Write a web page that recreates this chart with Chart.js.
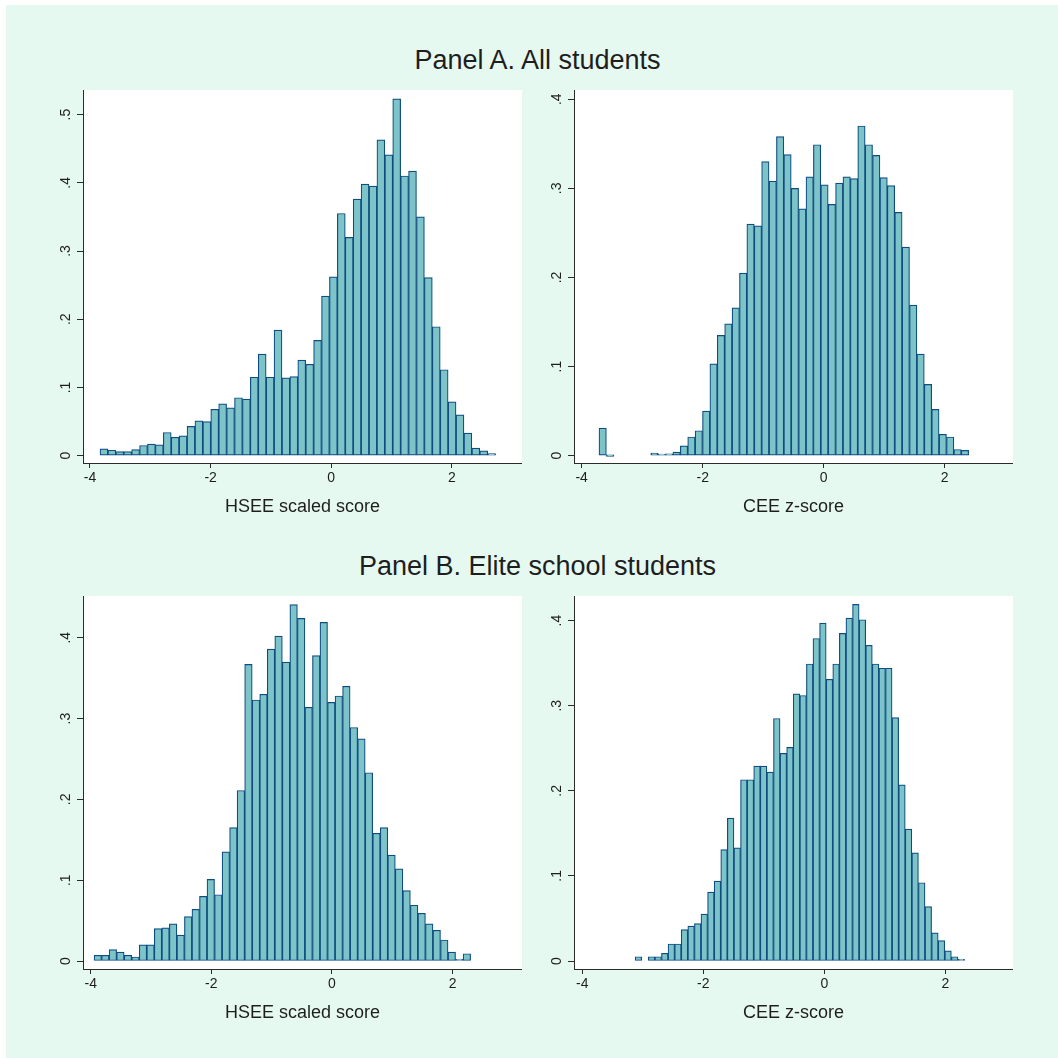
<!DOCTYPE html>
<html>
<head>
<meta charset="utf-8">
<script src="https://cdn.jsdelivr.net/npm/chart.js@4"></script>
<style>
  html, body { margin: 0; overflow: hidden; }
  body { background: #fff; font-family: "Liberation Sans", Arial, sans-serif; }
  #fundo { position: absolute; left: 6px; top: 5px; width: 1052px; height: 1053px; background: #e6f9f1; }
  .painel { position: absolute; left: 0; width: 1075px; text-align: center; font-size: 27px; line-height: 30px; color: #1e1e1e; }
  canvas { position: absolute; }
</style>
</head>
<body>
<div id="fundo"></div>
<div class="painel" style="top:45px">Panel A. All students</div>
<div class="painel" style="top:551px">Panel B. Elite school students</div>
<canvas id="hseeTodos" width="482" height="433" style="left:40px;top:85px"></canvas>
<canvas id="ceeTodos" width="482" height="433" style="left:531px;top:85px"></canvas>
<canvas id="hseeElite" width="482" height="433" style="left:40px;top:591px"></canvas>
<canvas id="ceeElite" width="482" height="433" style="left:531px;top:591px"></canvas>
<script>
// densidades por faixa (50 faixas em cada histograma)
const hseeTodos = [
  0.010, 0.008, 0.006, 0.006, 0.009, 0.015, 0.017, 0.016, 0.034, 0.027,
  0.029, 0.043, 0.051, 0.050, 0.068, 0.076, 0.070, 0.085, 0.083, 0.115,
  0.149, 0.115, 0.184, 0.114, 0.116, 0.140, 0.134, 0.169, 0.234, 0.262,
  0.355, 0.320, 0.376, 0.398, 0.395, 0.463, 0.441, 0.523, 0.410, 0.417,
  0.350, 0.261, 0.189, 0.126, 0.079, 0.060, 0.033, 0.011, 0.007, 0.003
];
const ceeTodos = [
  0.031, 0, null, null, null, null, null, 0.003, 0.001, 0.002,
  0.004, 0.011, 0.021, 0.028, 0.050, 0.103, 0.135, 0.148, 0.166, 0.205,
  0.260, 0.258, 0.330, 0.308, 0.358, 0.338, 0.300, 0.277, 0.313, 0.349,
  0.304, 0.282, 0.306, 0.313, 0.311, 0.370, 0.349, 0.337, 0.312, 0.303,
  0.273, 0.234, 0.169, 0.114, 0.080, 0.052, 0.024, 0.021, 0.007, 0.006
];
const hseeElite = [
  0.007, 0.007, 0.014, 0.011, 0.007, 0.005, 0.020, 0.020, 0.040, 0.041,
  0.046, 0.032, 0.055, 0.064, 0.080, 0.101, 0.082, 0.135, 0.165, 0.211,
  0.367, 0.323, 0.330, 0.386, 0.402, 0.370, 0.441, 0.424, 0.314, 0.378,
  0.419, 0.320, 0.328, 0.340, 0.289, 0.275, 0.233, 0.158, 0.165, 0.131,
  0.114, 0.087, 0.069, 0.059, 0.046, 0.038, 0.026, 0.011, 0.002, 0.009
];
const ceeElite = [
  0.005, null, 0.005, 0.005, 0.009, 0.020, 0.020, 0.037, 0.041, 0.044,
  0.055, 0.081, 0.094, 0.131, 0.168, 0.133, 0.213, 0.213, 0.229, 0.229,
  0.222, 0.285, 0.244, 0.251, 0.314, 0.312, 0.349, 0.379, 0.397, 0.331,
  0.349, 0.385, 0.403, 0.419, 0.401, 0.371, 0.349, 0.344, 0.344, 0.286,
  0.207, 0.155, 0.127, 0.092, 0.064, 0.033, 0.024, 0.012, 0.005, 0.002
];

// inicio e largura das faixas de cada variavel
const faixasHseeTodos = [-3.834, 0.1312];
const faixasCeeTodos = [-3.714, 0.1222];
const faixasHseeElite = [-3.945, 0.1249];
const faixasCeeElite = [-3.127, 0.1089];

const ticksX = [-4, -2, 0, 2];
const rotulosX = ['-4', '-2', '0', '2'];
const ticksY5 = [0, 0.1, 0.2, 0.3, 0.4, 0.5];
const rotulosY5 = ['0', '.1', '.2', '.3', '.4', '.5'];
const ticksY4 = [0, 0.1, 0.2, 0.3, 0.4];
const rotulosY4 = ['0', '.1', '.2', '.3', '.4'];

const fonte = '"Liberation Sans", Arial, sans-serif';
const corTexto = '#1e1e1e';
const corEixo = '#2b2b2b';
const corBarra = '#7cc4c8';
const corBorda = '#104c82';

const areaBranca = {
  id: 'areaBranca',
  beforeDraw(chart) {
    const a = chart.chartArea;
    const ctx = chart.ctx;
    ctx.save();
    ctx.fillStyle = '#fff';
    ctx.fillRect(a.left, a.top, a.right - a.left, a.bottom - a.top);
    ctx.restore();
  }
};

// rotulos do eixo y girados, como no Stata
const rotuloY = {
  id: 'rotuloY',
  afterDraw(chart, args, opts) {
    const esc = chart.scales.y;
    const ctx = chart.ctx;
    ctx.save();
    ctx.fillStyle = corTexto;
    ctx.font = '14px ' + fonte;
    ctx.textAlign = 'center';
    ctx.textBaseline = 'alphabetic';
    opts.valores.forEach((v, i) => {
      ctx.save();
      ctx.translate(esc.right - 13, esc.getPixelForValue(v));
      ctx.rotate(-Math.PI / 2);
      ctx.fillText(opts.rotulos[i], 0, 0);
      ctx.restore();
    });
    ctx.restore();
  }
};

function criarHistograma(id, faixas, valores, limX, limY, ticksY, rotulosY, tituloX) {
  const pontos = valores.map((v, i) => ({ x: faixas[0] + faixas[1] * (i + 0.5), y: v }));
  return new Chart(document.getElementById(id), {
    type: 'bar',
    data: {
      datasets: [{
        data: pontos,
        backgroundColor: corBarra,
        borderColor: corBorda,
        borderWidth: 1.2,
        borderSkipped: false,
        barPercentage: 1,
        categoryPercentage: 1,
        minBarLength: 1.5
      }]
    },
    options: {
      responsive: false,
      animation: false,
      layout: { padding: { top: 5, right: 0, bottom: 0, left: 0 } },
      plugins: {
        legend: { display: false },
        tooltip: { enabled: false },
        rotuloY: { valores: ticksY, rotulos: rotulosY }
      },
      scales: {
        x: {
          type: 'linear',
          offset: false,
          min: limX[0],
          max: limX[1],
          afterBuildTicks: s => { s.ticks = ticksX.map(v => ({ value: v })); },
          afterFit: s => { s.height = 55; },
          grid: { drawOnChartArea: false, drawTicks: true, tickLength: 5, tickColor: corEixo, offset: false },
          border: { display: true, color: corEixo, width: 1 },
          ticks: {
            font: { size: 14, family: fonte },
            color: corTexto,
            padding: 2,
            maxRotation: 0,
            autoSkip: false,
            callback: (v, i) => rotulosX[i]
          },
          title: { display: true, text: tituloX, font: { size: 18, family: fonte }, color: corTexto, padding: 0 }
        },
        y: {
          min: limY[0],
          max: limY[1],
          afterBuildTicks: s => { s.ticks = ticksY.map(v => ({ value: v })); },
          afterFit: s => { s.width = 43; },
          grid: { drawOnChartArea: false, drawTicks: true, tickLength: 6, tickColor: corEixo },
          border: { display: true, color: corEixo, width: 1 },
          ticks: { display: false }
        }
      }
    },
    plugins: [areaBranca, rotuloY]
  });
}

criarHistograma('hseeTodos', faixasHseeTodos, hseeTodos, [-4.116, 3.164], [-0.0107, 0.536], ticksY5, rotulosY5, 'HSEE scaled score');
criarHistograma('ceeTodos', faixasCeeTodos, ceeTodos, [-4.127, 3.129], [-0.0082, 0.4104], ticksY4, rotulosY4, 'CEE z-score');
criarHistograma('hseeElite', faixasHseeElite, hseeElite, [-4.128, 3.152], [-0.0099, 0.4517], ticksY4, rotulosY4, 'HSEE scaled score');
criarHistograma('ceeElite', faixasCeeElite, ceeElite, [-4.137, 3.119], [-0.0094, 0.4289], ticksY4, rotulosY4, 'CEE z-score');
</script>
</body>
</html>
